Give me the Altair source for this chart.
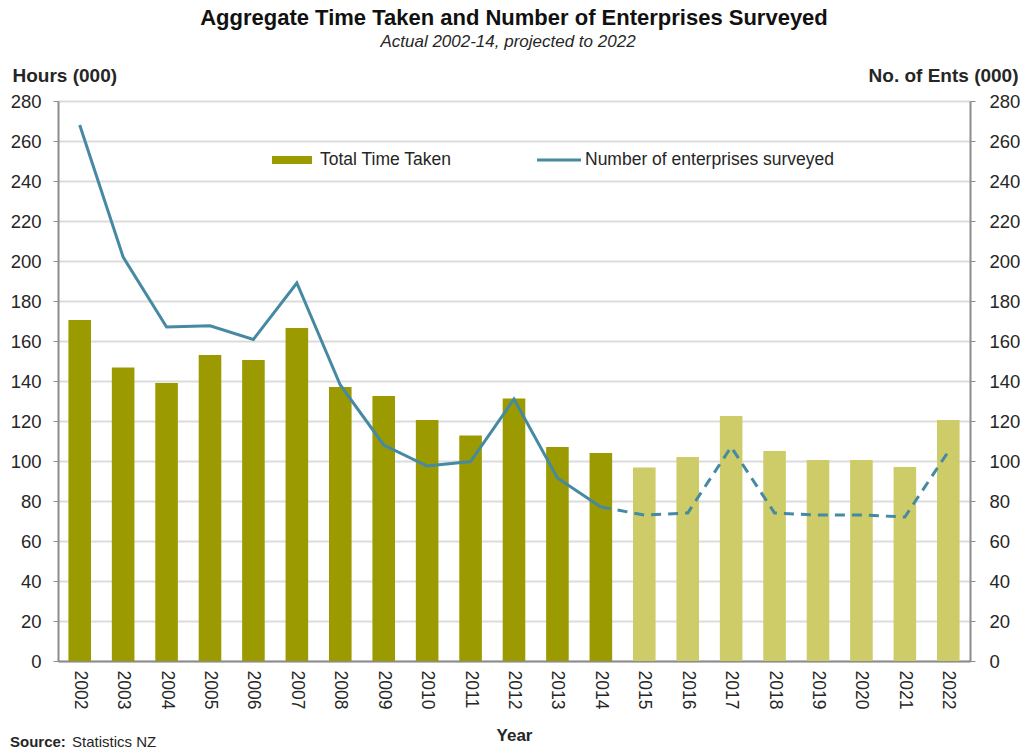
import altair as alt
import pandas as pd

# Survey years, actual (2002-14) and projected (2015-22)
years = ["2002", "2003", "2004", "2005", "2006", "2007", "2008", "2009", "2010",
         "2011", "2012", "2013", "2014", "2015", "2016", "2017", "2018", "2019",
         "2020", "2021", "2022"]
# Total time taken, hours (000)
hours = [170.5, 146.7, 139, 153, 150.5, 166.5, 137, 132.5, 120.5, 112.7, 131.3,
         107, 104, 96.7, 102, 122.5, 105, 100.5, 100.5, 97, 120.5]
# Number of enterprises surveyed (000)
ents = [268, 202, 167, 167.6, 160.8, 189, 138, 108, 97.5, 99.7, 131, 91.5, 77,
        73, 74, 107, 74, 73, 73, 72, 104.7]
phase = ["Actual"] * 13 + ["Projected"] * 8
y_ticks = [0, 20, 40, 60, 80, 100, 120, 140, 160, 180, 200, 220, 240, 260, 280]

df = pd.DataFrame({"year": years, "hours": hours, "ents": ents, "phase": phase,
                   "yr": [int(y) for y in years]})

FONT = "Liberation Sans"
DARK = "#9b9a00"
LIGHT = "#cdcc68"
LINE = "#4589a3"
GRID = "#dcdcdc"
AXIS = "#8c8c8c"
TEXT = "#262626"

x_enc = alt.X("year:O",
              scale=alt.Scale(paddingInner=0.48, paddingOuter=0.24),
              axis=alt.Axis(labelAngle=90, labelFontSize=17.5, labelColor=TEXT,
                            labelPadding=9, ticks=False, domainColor=AXIS,
                            domainWidth=2, title="Year", titleFontSize=17,
                            titleFontWeight="bold", titleColor=TEXT,
                            titleY=74, titleBaseline="middle"))

bars = alt.Chart(df).mark_bar().encode(
    x=x_enc,
    y=alt.Y("hours:Q", scale=alt.Scale(domain=[0, 280], nice=False),
            axis=alt.Axis(values=y_ticks, grid=True, gridColor=GRID, gridWidth=2,
                          tickSize=5, tickColor=AXIS, domainColor=AXIS, domainWidth=2,
                          labelFontSize=18.5, labelColor=TEXT, labelPadding=12,
                          title="Hours (000)", titleAngle=0, titleX=-46, titleY=-26,
                          titleAlign="left", titleBaseline="middle",
                          titleFontSize=19, titleFontWeight="bold", titleColor=TEXT)),
    color=alt.Color("phase:N", scale=alt.Scale(domain=["Actual", "Projected"],
                                               range=[DARK, LIGHT]), legend=None),
)

y_ents = alt.Y("ents:Q", scale=alt.Scale(domain=[0, 280], nice=False),
               axis=alt.Axis(values=y_ticks, orient="right", grid=False,
                             tickSize=5, tickColor=AXIS, domainColor=AXIS, domainWidth=2,
                             labelFontSize=18.5, labelColor=TEXT, labelPadding=14,
                             title="No. of Ents (000)", titleAngle=0, titleX=48,
                             titleY=-26, titleAlign="right", titleBaseline="middle",
                             titleFontSize=19, titleFontWeight="bold", titleColor=TEXT))

solid = alt.Chart(df).transform_filter(alt.datum.yr <= 2014).mark_line(
    color=LINE, strokeWidth=3).encode(x=x_enc, y=y_ents)
dashed = alt.Chart(df).transform_filter(alt.datum.yr >= 2014).mark_line(
    color=LINE, strokeWidth=3, strokeDash=[10, 7]).encode(x=x_enc, y=y_ents)
lines = alt.layer(solid, dashed)

one = pd.DataFrame({"k": [0]})

# Legend entries
leg_bar = alt.Chart(one).mark_rule(color=DARK, strokeWidth=8).encode(
    x=alt.value(214), x2=alt.value(254), y=alt.value(59))
leg_bar_txt = alt.Chart(one).mark_text(
    text="Total Time Taken", align="left", baseline="middle", font=FONT,
    fontSize=17.5, color=TEXT).encode(x=alt.value(262), y=alt.value(59))
leg_line = alt.Chart(one).mark_rule(color=LINE, strokeWidth=3).encode(
    x=alt.value(479), x2=alt.value(523), y=alt.value(59))
leg_line_txt = alt.Chart(one).mark_text(
    text="Number of enterprises surveyed", align="left", baseline="middle",
    font=FONT, fontSize=17.5, color=TEXT).encode(x=alt.value(527), y=alt.value(59))

# Headings and source note
title = alt.Chart(one).mark_text(
    text="Aggregate Time Taken and Number of Enterprises Surveyed", align="center",
    baseline="middle", font=FONT, fontSize=22, fontWeight="bold", color="#111111"
).encode(x=alt.value(456), y=alt.value(-83))
subtitle = alt.Chart(one).mark_text(
    text="Actual 2002-14, projected to 2022", align="center", baseline="middle",
    font=FONT, fontSize=17, fontStyle="italic", color=TEXT
).encode(x=alt.value(450), y=alt.value(-59))
src1 = alt.Chart(one).mark_text(
    text="Source:", align="left", baseline="middle", font=FONT, fontSize=15,
    fontWeight="bold", color=TEXT).encode(x=alt.value(-48), y=alt.value(641))
src2 = alt.Chart(one).mark_text(
    text="Statistics NZ", align="left", baseline="middle", font=FONT, fontSize=15,
    color=TEXT).encode(x=alt.value(14), y=alt.value(641))

chart = alt.layer(
    bars, lines, leg_bar, leg_bar_txt, leg_line, leg_line_txt,
    title, subtitle, src1, src2
).resolve_scale(y="independent").properties(
    width=912, height=560,
    padding={"left": 58, "top": 101, "right": 61, "bottom": 92},
    autosize=alt.AutoSizeParams(type="none"),
).configure_view(stroke="#a6a6a6", strokeWidth=1.5).configure(font=FONT)

chart.save("out.html", embed_options={"renderer": "svg", "actions": False})
